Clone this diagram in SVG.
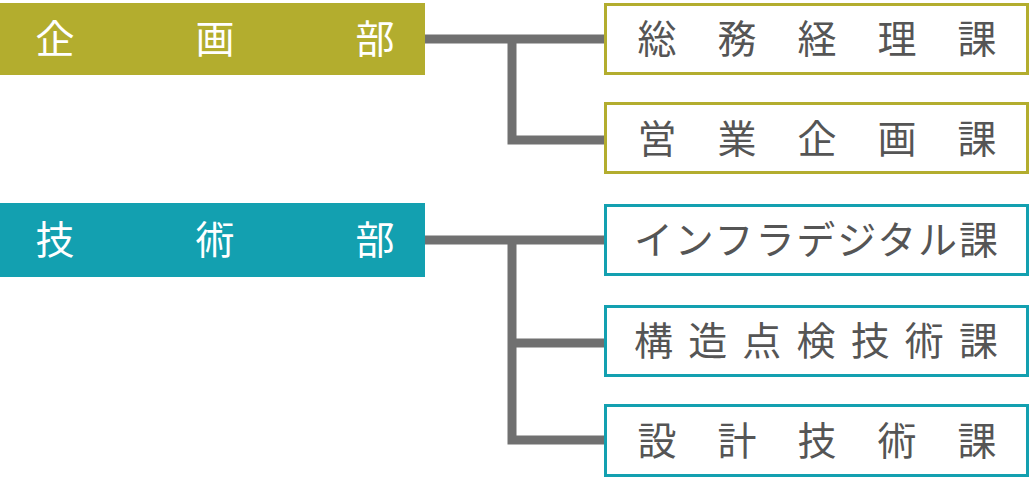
<svg xmlns="http://www.w3.org/2000/svg" width="1033" height="480" viewBox="0 0 1033 480">
<style>
.t{font-family:"Noto Sans CJK JP","Noto Sans",sans-serif;font-size:39px;text-anchor:middle}
.w{fill:#fff}.g{fill:#555}
.bo{fill:#fff;stroke:#b3ad2e;stroke-width:3}
.bt{fill:#fff;stroke:#13a0b0;stroke-width:3}
.c{fill:none;stroke:#707070;stroke-width:9}
.j{font-family:"Noto Sans CJK JP","Noto Sans",sans-serif;font-size:39px;fill:#555}
</style>
<rect width="1033" height="480" fill="#fff"/>
<g id="connectors">
<path class="c" d="M425 39H512V140H604M512 39H604"/>
<path class="c" d="M425 240H512V440H604M512 240H604M512 343H604"/>
</g>
<g id="kikaku"><rect x="0" y="3" width="425" height="72" fill="#b3ad2e"/>
<text class="t w" y="53"><tspan x="55">企</tspan><tspan x="215">画</tspan><tspan x="375">部</tspan></text></g>
<g id="gijutsu"><rect x="0" y="203" width="425" height="74" fill="#13a0b0"/>
<text class="t w" y="254"><tspan x="55">技</tspan><tspan x="215">術</tspan><tspan x="375">部</tspan></text></g>
<g id="soumu"><rect class="bo" x="605.5" y="4.5" width="422" height="69"/>
<text class="t g" y="53"><tspan x="657">総</tspan><tspan x="737">務</tspan><tspan x="817">経</tspan><tspan x="897">理</tspan><tspan x="977">課</tspan></text></g>
<g id="eigyou"><rect class="bo" x="605.5" y="103.5" width="422" height="69"/>
<text class="t g" y="153"><tspan x="657">営</tspan><tspan x="737">業</tspan><tspan x="817">企</tspan><tspan x="897">画</tspan><tspan x="977">課</tspan></text></g>
<g id="infra"><rect class="bt" x="605.5" y="205.5" width="422" height="69"/>
<text class="j" x="634" y="254" textLength="364" lengthAdjust="spacing">インフラデジタル課</text></g>
<g id="kouzou"><rect class="bt" x="605.5" y="306.5" width="422" height="69"/>
<text class="j" x="634" y="355" textLength="364" lengthAdjust="spacing">構造点検技術課</text></g>
<g id="sekkei"><rect class="bt" x="605.5" y="405.5" width="422" height="70"/>
<text class="t g" y="455"><tspan x="657">設</tspan><tspan x="737">計</tspan><tspan x="817">技</tspan><tspan x="897">術</tspan><tspan x="977">課</tspan></text></g>
</svg>
